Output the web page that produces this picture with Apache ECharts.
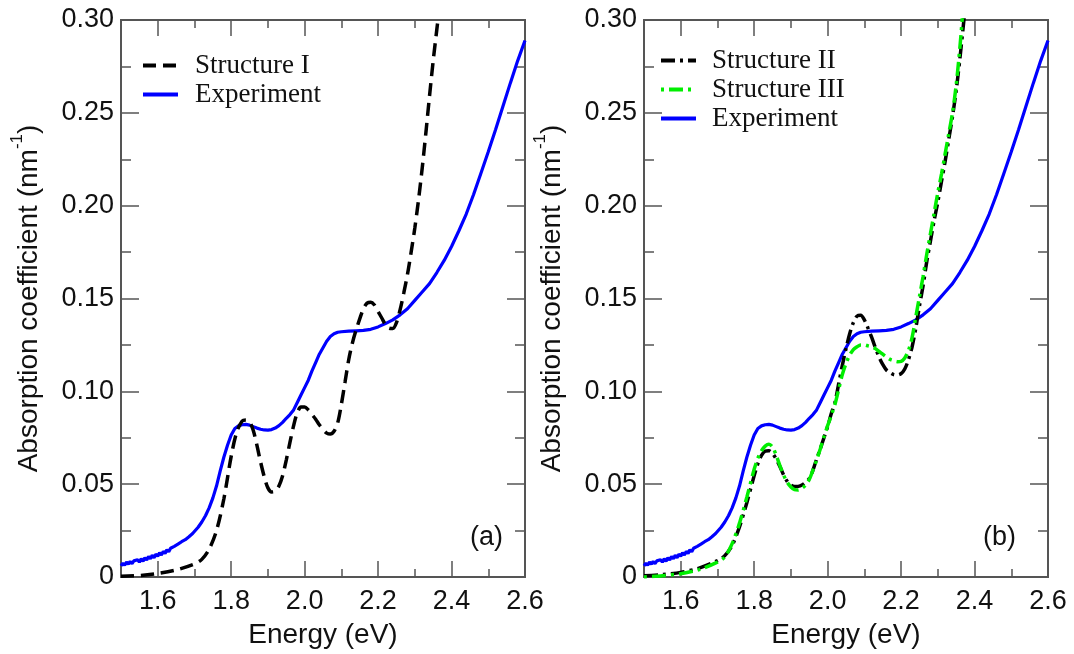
<!DOCTYPE html>
<html>
<head>
<meta charset="utf-8">
<script src="https://cdn.jsdelivr.net/npm/echarts@6/dist/echarts.min.js"></script>
<style>
  html, body { margin: 0; padding: 0; background: #fff; }
  #chart { width: 1074px; height: 654px; }
</style>
</head>
<body>
<div id="chart"></div>
<script>
// tick positions
const majorX = [1.6, 1.8, 2.0, 2.2, 2.4, 2.6];
const minorX = [1.7, 1.9, 2.1, 2.3, 2.5];

// measured absorption (same curve in both panels), [energy eV, coefficient nm^-1]
const experiment = [
  [1.500, 0.0060], [1.505, 0.0074], [1.510, 0.0063], [1.515, 0.0080], [1.520, 0.0069],
  [1.525, 0.0084], [1.530, 0.0072], [1.535, 0.0087], [1.540, 0.0077], [1.545, 0.0093],
  [1.550, 0.0080], [1.555, 0.0098], [1.560, 0.0085], [1.565, 0.0103], [1.570, 0.0092],
  [1.575, 0.0111], [1.580, 0.0098], [1.585, 0.0117], [1.590, 0.0104], [1.595, 0.0123],
  [1.600, 0.0112], [1.605, 0.0130], [1.610, 0.0119], [1.615, 0.0138], [1.620, 0.0127],
  [1.625, 0.0147], [1.630, 0.0136], [1.635, 0.0155], [1.640, 0.0145], [1.645, 0.0165],
  [1.650, 0.0156], [1.655, 0.0177], [1.660, 0.0168], [1.665, 0.0190], [1.670, 0.0182],
  [1.675, 0.0201], [1.680, 0.0198], [1.685, 0.0217], [1.690, 0.0218], [1.695, 0.0234],
  [1.700, 0.0244], [1.710, 0.0268], [1.720, 0.0296], [1.730, 0.0330], [1.740, 0.0372],
  [1.750, 0.0425], [1.760, 0.0490], [1.770, 0.0570], [1.780, 0.0645], [1.790, 0.0710],
  [1.800, 0.0765], [1.810, 0.0800], [1.820, 0.0814], [1.830, 0.0820], [1.840, 0.0822],
  [1.850, 0.0818], [1.860, 0.0810], [1.870, 0.0802], [1.880, 0.0796], [1.890, 0.0792],
  [1.900, 0.0791], [1.910, 0.0794], [1.920, 0.0802], [1.930, 0.0815], [1.940, 0.0833],
  [1.950, 0.0855], [1.960, 0.0875], [1.970, 0.0900], [1.980, 0.0940], [1.990, 0.0980],
  [2.000, 0.1020], [2.010, 0.1060], [2.020, 0.1110], [2.030, 0.1155], [2.040, 0.1200],
  [2.050, 0.1235], [2.060, 0.1270], [2.070, 0.1295], [2.080, 0.1310], [2.090, 0.1318],
  [2.100, 0.1321], [2.120, 0.1324], [2.140, 0.1326], [2.160, 0.1328], [2.180, 0.1334],
  [2.200, 0.1347], [2.220, 0.1365], [2.240, 0.1385], [2.260, 0.1412], [2.280, 0.1445],
  [2.300, 0.1490], [2.320, 0.1535], [2.340, 0.1580], [2.360, 0.1640], [2.380, 0.1705],
  [2.400, 0.1780], [2.420, 0.1865], [2.440, 0.1955], [2.460, 0.2060], [2.480, 0.2175],
  [2.500, 0.2290], [2.520, 0.2410], [2.540, 0.2535], [2.560, 0.2660], [2.580, 0.2780],
  [2.600, 0.2890]
];

const structureI = [
  [1.50, 0.0004], [1.55, 0.0008], [1.60, 0.0019], [1.65, 0.0038], [1.70, 0.0070],
  [1.72, 0.0095], [1.74, 0.0150], [1.76, 0.0250], [1.78, 0.0420], [1.80, 0.0650],
  [1.815, 0.0780], [1.83, 0.0840], [1.84, 0.0845], [1.85, 0.0835], [1.86, 0.0790],
  [1.87, 0.0710], [1.88, 0.0620], [1.89, 0.0540], [1.90, 0.0480], [1.91, 0.0458],
  [1.92, 0.0462], [1.93, 0.0490], [1.94, 0.0545], [1.95, 0.0630], [1.96, 0.0725],
  [1.97, 0.0815], [1.98, 0.0885], [1.99, 0.0915], [2.00, 0.0915], [2.01, 0.0900],
  [2.02, 0.0875], [2.03, 0.0850], [2.04, 0.0820], [2.05, 0.0795], [2.06, 0.0775],
  [2.07, 0.0770], [2.08, 0.0785], [2.09, 0.0830], [2.10, 0.0930], [2.11, 0.1050],
  [2.12, 0.1170], [2.13, 0.1260], [2.14, 0.1330], [2.15, 0.1390], [2.16, 0.1445],
  [2.17, 0.1475], [2.18, 0.1480], [2.19, 0.1465], [2.20, 0.1430], [2.21, 0.1395],
  [2.22, 0.1360], [2.23, 0.1340], [2.24, 0.1338], [2.25, 0.1370], [2.26, 0.1440],
  [2.27, 0.1530], [2.28, 0.1630], [2.29, 0.1750], [2.30, 0.1880], [2.31, 0.2030],
  [2.32, 0.2200], [2.33, 0.2390], [2.34, 0.2590], [2.35, 0.2780], [2.36, 0.2950],
  [2.37, 0.3120], [2.38, 0.3300]
];

const structureII = [
  [1.50, 0.0007], [1.55, 0.0013], [1.60, 0.0025], [1.65, 0.0048], [1.70, 0.0088],
  [1.72, 0.0115], [1.74, 0.0170], [1.76, 0.0270], [1.78, 0.0400], [1.80, 0.0546],
  [1.81, 0.0610], [1.82, 0.0655], [1.83, 0.0678], [1.84, 0.0680], [1.85, 0.0665],
  [1.86, 0.0635], [1.87, 0.0595], [1.88, 0.0550], [1.89, 0.0515], [1.90, 0.0495],
  [1.91, 0.0487], [1.92, 0.0488], [1.93, 0.0495], [1.94, 0.0510], [1.95, 0.0530],
  [1.96, 0.0575], [1.97, 0.0635], [1.98, 0.0690], [1.99, 0.0750], [2.00, 0.0810],
  [2.01, 0.0880], [2.02, 0.0940], [2.03, 0.1040], [2.04, 0.1140], [2.05, 0.1230],
  [2.06, 0.1310], [2.07, 0.1370], [2.08, 0.1405], [2.09, 0.1410], [2.10, 0.1385],
  [2.11, 0.1340], [2.12, 0.1290], [2.13, 0.1235], [2.14, 0.1185], [2.15, 0.1145],
  [2.16, 0.1115], [2.17, 0.1100], [2.18, 0.1090], [2.19, 0.1088], [2.20, 0.1095],
  [2.21, 0.1120], [2.22, 0.1170], [2.23, 0.1240], [2.24, 0.1340], [2.25, 0.1460],
  [2.26, 0.1570], [2.27, 0.1700], [2.28, 0.1810], [2.29, 0.1920], [2.30, 0.2020],
  [2.31, 0.2130], [2.32, 0.2240], [2.33, 0.2360], [2.34, 0.2480], [2.35, 0.2620],
  [2.36, 0.2790], [2.37, 0.2980], [2.38, 0.3180], [2.39, 0.3380]
];

const structureIII = [
  [1.50, 0.0000], [1.55, 0.0007], [1.60, 0.0018], [1.65, 0.0040], [1.70, 0.0080],
  [1.72, 0.0108], [1.74, 0.0180], [1.76, 0.0290], [1.78, 0.0430], [1.80, 0.0580],
  [1.81, 0.0640], [1.82, 0.0680], [1.83, 0.0705], [1.84, 0.0715], [1.85, 0.0700],
  [1.86, 0.0655], [1.87, 0.0600], [1.88, 0.0550], [1.89, 0.0510], [1.90, 0.0485],
  [1.91, 0.0470], [1.92, 0.0468], [1.93, 0.0478], [1.94, 0.0495], [1.95, 0.0525],
  [1.96, 0.0575], [1.97, 0.0630], [1.98, 0.0690], [1.99, 0.0755], [2.00, 0.0815],
  [2.01, 0.0870], [2.02, 0.0930], [2.03, 0.1010], [2.04, 0.1090], [2.05, 0.1150],
  [2.06, 0.1195], [2.07, 0.1225], [2.08, 0.1240], [2.09, 0.1250], [2.10, 0.1250],
  [2.11, 0.1245], [2.12, 0.1240], [2.13, 0.1230], [2.14, 0.1215], [2.15, 0.1200],
  [2.16, 0.1185], [2.17, 0.1172], [2.18, 0.1165], [2.19, 0.1160], [2.20, 0.1162],
  [2.21, 0.1180], [2.22, 0.1220], [2.23, 0.1290], [2.24, 0.1400], [2.25, 0.1510],
  [2.26, 0.1620], [2.27, 0.1740], [2.28, 0.1850], [2.29, 0.1960], [2.30, 0.2070],
  [2.31, 0.2170], [2.32, 0.2280], [2.33, 0.2390], [2.34, 0.2500], [2.35, 0.2650],
  [2.36, 0.2850], [2.37, 0.3090], [2.38, 0.3300]
];

const chart = echarts.init(document.getElementById('chart'), null, { renderer: 'canvas' });

const AXIS_COLOR = '#555';
const SANS = 'Liberation Sans, Arial, sans-serif';
const SERIF = 'Liberation Serif, Times New Roman, serif';

function xAxes(grid) {
  const base = {
    type: 'value', gridIndex: grid, min: 1.5, max: 2.6,
    splitLine: { show: false },
    axisLine: { show: true, onZero: false, lineStyle: { color: AXIS_COLOR, width: 2 } }
  };
  return [
    {
      ...base, position: 'bottom',
      axisTick: { inside: true, length: 16, customValues: majorX, lineStyle: { color: AXIS_COLOR, width: 1.5 } },
      axisLabel: {
        customValues: majorX, margin: 11, fontSize: 27, fontFamily: SANS, color: '#111',
        formatter: v => v.toFixed(1)
      },
      name: 'Energy (eV)', nameLocation: 'middle', nameGap: 44,
      nameTextStyle: { fontSize: 28, fontFamily: SANS, color: '#111' }
    },
    {
      ...base, position: 'bottom',
      axisTick: { inside: true, length: 8, customValues: minorX, lineStyle: { color: AXIS_COLOR, width: 1.5 } },
      axisLabel: { show: false }
    },
    {
      ...base, position: 'top',
      axisTick: { inside: true, length: 16, customValues: majorX, lineStyle: { color: AXIS_COLOR, width: 1.5 } },
      axisLabel: { show: false }
    },
    {
      ...base, position: 'top',
      axisTick: { inside: true, length: 8, customValues: minorX, lineStyle: { color: AXIS_COLOR, width: 1.5 } },
      axisLabel: { show: false }
    }
  ];
}

function yAxes(grid) {
  const base = {
    type: 'value', gridIndex: grid, min: 0, max: 0.3, interval: 0.05,
    splitLine: { show: false },
    axisLine: { show: true, onZero: false, lineStyle: { color: AXIS_COLOR, width: 2 } },
    axisTick: { inside: true, length: 18, lineStyle: { color: AXIS_COLOR, width: 1.5 } },
    minorTick: { show: true, splitNumber: 2, length: 10, lineStyle: { color: AXIS_COLOR, width: 1.5 } }
  };
  return [
    {
      ...base, position: 'left',
      axisLabel: {
        margin: 7, fontSize: 27, fontFamily: SANS, color: '#111',
        formatter: v => (v === 0 ? '0' : v.toFixed(2))
      },
      name: '{a|Absorption coefficient (nm}{s|-1}{a|)}',
      nameLocation: 'middle', nameGap: 78,
      nameTextStyle: {
        rich: {
          a: { fontSize: 28, fontFamily: SANS, color: '#111', lineHeight: 34, verticalAlign: 'bottom' },
          s: { fontSize: 17, fontFamily: SANS, color: '#111', lineHeight: 34, verticalAlign: 'top' }
        }
      }
    },
    { ...base, position: 'right', axisLabel: { show: false } }
  ];
}

const blue = { type: 'solid', color: '#0000ff', width: 3.2 };

// legend shows only the line sample, marker hidden
const legendBase = {
  orient: 'vertical', itemGap: 0, itemWidth: 35, itemHeight: 12,
  itemStyle: { opacity: 0 },
  lineStyle: { width: 4 }
};

const option = {
  animation: false,
  backgroundColor: '#fff',
  grid: [
    { left: 121, right: 549, top: 20, bottom: 72 },
    { left: 644, right: 26, top: 20, bottom: 72 }
  ],
  xAxis: [...xAxes(0), ...xAxes(1)],
  yAxis: [...yAxes(0), ...yAxes(1)],
  legend: [
    {
      ...legendBase, left: 136, top: 46,
      data: ['Structure I', 'Experiment'],
      textStyle: { fontSize: 27, fontFamily: SERIF, color: '#111', lineHeight: 29, padding: [0, 0, 0, 12] }
    },
    {
      ...legendBase, left: 654, top: 41,
      data: ['Structure II', 'Structure III', 'Experiment'],
      textStyle: { fontSize: 27, fontFamily: SERIF, color: '#111', lineHeight: 29, padding: [0, 0, 0, 11] }
    }
  ],
  graphic: [
    { type: 'text', left: 470, top: 524, style: { text: '(a)', fontSize: 27, fontFamily: SANS, fill: '#111' } },
    { type: 'text', left: 983, top: 524, style: { text: '(b)', fontSize: 27, fontFamily: SANS, fill: '#111' } }
  ],
  series: [
    {
      name: 'Experiment', type: 'line', xAxisIndex: 0, yAxisIndex: 0,
      data: experiment, symbol: 'none', smooth: false, lineStyle: blue, itemStyle: { color: '#0000ff' }, z: 3
    },
    {
      name: 'Structure I', type: 'line', xAxisIndex: 0, yAxisIndex: 0,
      data: structureI, symbol: 'none', smooth: 0.3,
      lineStyle: { color: '#000', width: 3.5, type: [13, 7] }, itemStyle: { color: '#000' }, z: 4
    },
    {
      name: 'Experiment', type: 'line', xAxisIndex: 4, yAxisIndex: 2,
      data: experiment, symbol: 'none', smooth: false, lineStyle: blue, itemStyle: { color: '#0000ff' }, z: 3
    },
    {
      name: 'Structure II', type: 'line', xAxisIndex: 4, yAxisIndex: 2,
      data: structureII, symbol: 'none', smooth: 0.3,
      lineStyle: { color: '#000', width: 3.5, type: [14, 5, 3, 5] }, itemStyle: { color: '#000' }, z: 4
    },
    {
      name: 'Structure III', type: 'line', xAxisIndex: 4, yAxisIndex: 2,
      data: structureIII, symbol: 'none', smooth: 0.3,
      lineStyle: { color: '#00ee00', width: 3.5, type: [14, 5, 3, 5], dashOffset: 19 }, itemStyle: { color: '#00ee00' }, z: 5
    }
  ]
};

chart.setOption(option);
</script>
</body>
</html>
